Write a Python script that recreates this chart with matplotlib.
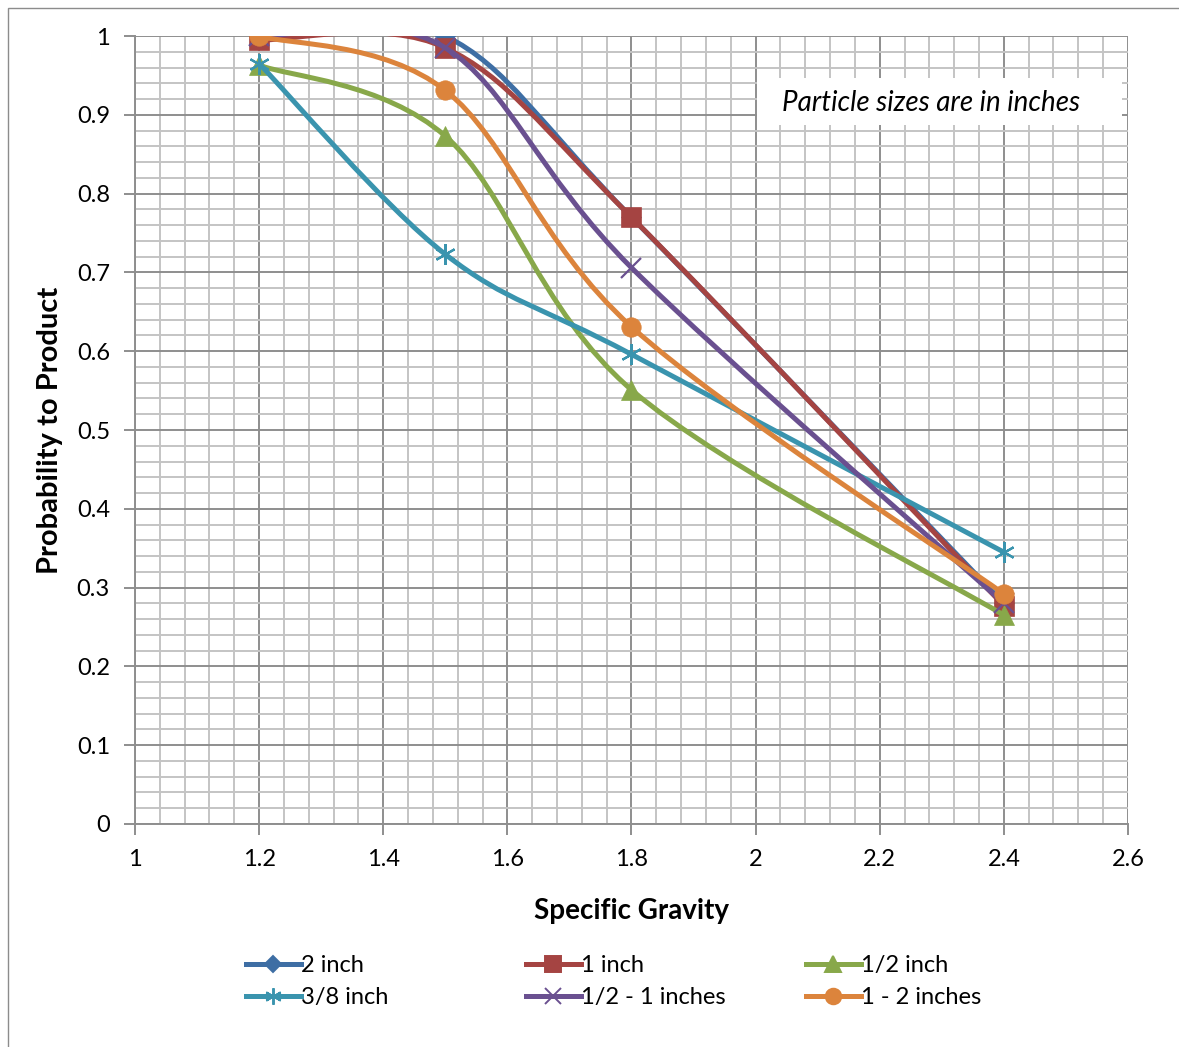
import numpy as np
import matplotlib.pyplot as plt
from matplotlib.path import Path
from matplotlib.patches import PathPatch, Rectangle
from matplotlib.lines import Line2D
from matplotlib.ticker import MultipleLocator

plt.rcParams["font.family"] = ["Lato", "DejaVu Sans"]

# data
sg = [1.2, 1.5, 1.8, 2.4]
series_names = ["2 inch", "1 inch", "1/2 inch", "3/8 inch", "1/2 - 1 inches", "1 - 2 inches"]
p_2in = [1.0, 1.0, 0.77, 0.28]
p_1in = [0.995, 0.985, 0.77, 0.277]
p_half = [0.963, 0.873, 0.551, 0.265]
p_3_8 = [0.965, 0.723, 0.596, 0.345]
p_half_1 = [1.0, 0.985, 0.706, 0.28]
p_1_2 = [1.0, 0.931, 0.631, 0.292]

colors = ["#3E6EA4", "#A54442", "#88A84A", "#3A94AE", "#6A5090", "#DC843C"]
markers = ["D", "s", "^", (6, 2, 0), "x", "o"]
msizes = [10, 14, 14, 15, 14, 14]
values = [p_2in, p_1in, p_half, p_3_8, p_half_1, p_1_2]


def smooth_path(xs, ys):
    # Excel-like smoothed line: cubic bezier with catmull-rom control points
    pts = np.column_stack([xs, ys])
    n = len(pts)
    verts = [pts[0]]
    codes = [Path.MOVETO]
    for i in range(n - 1):
        p0 = pts[max(i - 1, 0)]
        p1 = pts[i]
        p2 = pts[i + 1]
        p3 = pts[min(i + 2, n - 1)]
        c1 = p1 + (p2 - p0) / 6.0
        c2 = p2 - (p3 - p1) / 6.0
        verts += [c1, c2, p2]
        codes += [Path.CURVE4] * 3
    return Path(verts, codes)


fig = plt.figure(figsize=(11.79, 10.47), dpi=100)
fig.patches.append(Rectangle((0.007, -0.01), 1.1, 1.002, transform=fig.transFigure,
                             fill=False, edgecolor="#8C8C8C", linewidth=1))
ax = fig.add_axes([0.1145, 0.213, 0.8422, 0.7526])

for k, (ys, c, m, ms) in enumerate(zip(values, colors, markers, msizes)):
    ax.add_patch(PathPatch(smooth_path(sg, ys), fill=False, edgecolor=c,
                           linewidth=3.6, capstyle="round", zorder=3 + k * 0.1))
    thin = m in ("x", (6, 2, 0))
    ax.plot(sg, ys, linestyle="none", marker=m, color=c, markersize=ms,
            markeredgecolor=c, markeredgewidth=1.6 if thin else 0.5, zorder=3.05 + k * 0.1)

ax.set_xlim(1, 2.6)
ax.set_ylim(0, 1)
ax.xaxis.set_minor_locator(MultipleLocator(0.04))
ax.yaxis.set_minor_locator(MultipleLocator(0.02))
ax.set_xticks(np.arange(1, 2.61, 0.2))
ax.set_xticklabels(["1", "1.2", "1.4", "1.6", "1.8", "2", "2.2", "2.4", "2.6"])
ax.set_yticks(np.arange(0, 1.01, 0.1))
ax.set_yticklabels(["0", "0.1", "0.2", "0.3", "0.4", "0.5", "0.6", "0.7", "0.8", "0.9", "1"])

ax.grid(which="minor", color="#C4C4C4", linewidth=1.4, zorder=0)
ax.grid(which="major", color="#8E8E8E", linewidth=1.4, zorder=1)
ax.set_axisbelow(True)
ax.tick_params(which="major", direction="out", length=8, width=1.4, color="#8E8E8E",
               labelsize=17, pad=10)
ax.tick_params(which="minor", length=0)
for side in ["top", "right"]:
    ax.spines[side].set_visible(False)
for side in ["left", "bottom"]:
    ax.spines[side].set_color("#8E8E8E")
    ax.spines[side].set_linewidth(1.4)

ax.set_xlabel("Specific Gravity", fontsize=20, fontweight="bold", labelpad=20)
ax.set_ylabel("Probability to Product", fontsize=21, fontweight="bold", labelpad=10)

# note box
ax.add_patch(Rectangle((0.626, 0.887), 0.368, 0.06, transform=ax.transAxes,
                       facecolor="white", edgecolor="none", zorder=2))
ax.text(0.802, 0.915, "Particle sizes are in inches", transform=ax.transAxes,
        fontsize=20, style="italic", ha="center", va="center", zorder=2.5)

handles = [Line2D([], [], color=c, linewidth=3.6, marker=m, markersize=ms * 0.8,
                  markeredgecolor=c, markeredgewidth=1.4)
           for c, m, ms in zip(colors, markers, msizes)]

# legend: three equal-width columns, each its own legend
col_x = [245, 525, 805]
for j in range(3):
    fig.legend([handles[j], handles[j + 3]], [series_names[j], series_names[j + 3]],
               loc="upper left", bbox_to_anchor=(col_x[j] / 1179 - 0.017, 0.108),
               frameon=False, fontsize=17, handlelength=2.3, handletextpad=0.0,
               labelspacing=0.45)

fig.savefig("out.png", dpi=100)
